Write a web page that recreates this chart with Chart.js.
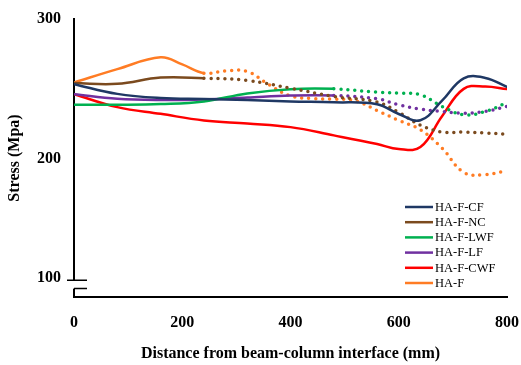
<!DOCTYPE html>
<html>
<head>
<meta charset="utf-8">
<script src="https://cdn.jsdelivr.net/npm/chart.js@4.4.0/dist/chart.umd.min.js"></script>
<style>
  html, body { margin: 0; padding: 0; background: #fff; }
</style>
</head>
<body>
<canvas id="stressChart" width="521" height="365"></canvas>
<script>
// Distance from beam-column interface (mm)
const distance = [0, 80, 160, 240, 320, 400, 480, 560, 600, 640, 680, 720, 760, 800];
const distanceHF = [0, 80, 160, 200, 240, 280, 320, 360, 400, 440, 480, 520, 560, 600, 640, 680, 720, 760, 800];

// Stress (Mpa)
const stressCF  = [253.4, 246.4, 243.4, 242.7, 242.0, 241.0, 240.4, 239.0, 232.0, 227.5, 241.5, 257.5, 257.8, 251.4];
const stressNC  = [254.1, 253.6, 258.1, 257.6, 256.0, 250.5, 244.5, 240.5, 233.1, 224.0, 219.1, 219.1, 218.4, 217.6];
const stressLWF = [238.6, 238.6, 239.1, 241.0, 246.7, 249.8, 250.0, 247.6, 246.9, 245.7, 237.4, 231.4, 233.8, 240.2];
const stressLF  = [246.2, 242.9, 242.0, 242.4, 243.8, 245.2, 245.2, 242.9, 238.6, 235.5, 233.8, 232.6, 233.8, 237.4];
const stressCWF = [246.2, 236.9, 232.1, 227.4, 225.2, 222.6, 216.7, 210.5, 206.9, 208.3, 230.4, 250.0, 251.7, 249.8];
const stressHF  = [254.5, 264.1, 272.6, 267.5, 261.2, 262.9, 262.5, 253.0, 245.0, 243.1, 242.6, 241.4, 234.5, 227.4, 220.7, 207.6, 190.2, 188.6, 191.6];

const seriesNames = ['HA-F-CF', 'HA-F-NC', 'HA-F-LWF', 'HA-F-LF', 'HA-F-CWF', 'HA-F'];
// measured (solid) up to this distance, dotted beyond
const solidUntil = [Infinity, 240, 480, 480, Infinity, 240];

const xTicks = [0, 200, 400, 600, 800];
const yTickLabels = ['100', '200', '300'];
const BREAK_LABEL_AT = 115;   // the "100" label sits at the axis break
const BREAK_TOP = 113, BREAK_BOTTOM = 107;

const colors = ['#1f3864', '#7b4a1e', '#00b050', '#7030a0', '#ff0000', '#ff7c24'];
const serif = "'Liberation Serif', 'Times New Roman', serif";

function pts(xs, ys) {
  return xs.map((x, i) => ({ x: x, y: ys[i] }));
}

const seriesData = [
  pts(distance, stressCF),
  pts(distance, stressNC),
  pts(distance, stressLWF),
  pts(distance, stressLF),
  pts(distance, stressCWF),
  pts(distanceHF, stressHF)
];

const datasets = seriesNames.map((name, i) => ({
  label: name,
  data: seriesData[i],
  borderColor: colors[i],
  backgroundColor: colors[i],
  borderWidth: 2.5,
  borderCapStyle: 'round',
  tension: 0.4,
  pointRadius: 0,
  fill: false,
  segment: {
    borderDash: ctx => ctx.p0.parsed.x >= solidUntil[i] ? [0, 7] : undefined,
    borderWidth: ctx => ctx.p0.parsed.x >= solidUntil[i] ? 3.5 : undefined
  }
}));

// broken y axis marks
const axisBreak = {
  id: 'axisBreak',
  afterDraw(chart) {
    const y = chart.scales.y, ctx = chart.ctx;
    const ax = chart.chartArea.left;
    const t = y.getPixelForValue(BREAK_TOP), b = y.getPixelForValue(BREAK_BOTTOM);
    ctx.save();
    ctx.fillStyle = '#fff';
    ctx.fillRect(ax - 2, t, 4, b - t);
    ctx.strokeStyle = '#000';
    ctx.lineWidth = 1.5;
    ctx.beginPath();
    ctx.moveTo(ax - 7, t); ctx.lineTo(ax + 13, t);
    ctx.moveTo(ax, b); ctx.lineTo(ax + 13, b);
    ctx.stroke();
    ctx.restore();
  }
};

// legend inside the plot, bottom right
const innerLegend = {
  id: 'innerLegend',
  afterDraw(chart) {
    const ctx = chart.ctx, area = chart.chartArea;
    const x0 = area.right - 102, y0 = area.bottom - 90;
    ctx.save();
    ctx.font = '12.5px ' + serif;
    ctx.textBaseline = 'middle';
    ctx.fillStyle = '#000';
    chart.data.datasets.forEach((ds, i) => {
      const y = y0 + i * 15.2;
      ctx.strokeStyle = ds.borderColor;
      ctx.lineWidth = 2.5;
      ctx.beginPath();
      ctx.moveTo(x0, y);
      ctx.lineTo(x0 + 28, y);
      ctx.stroke();
      ctx.fillText(ds.label, x0 + 30, y + 0.5);
    });
    ctx.restore();
  }
};

const ctx = document.getElementById('stressChart').getContext('2d');
new Chart(ctx, {
  type: 'line',
  data: { datasets: datasets },
  plugins: [axisBreak, innerLegend],
  options: {
    responsive: false,
    animation: false,
    layout: { padding: { top: 19, right: 0, left: 0, bottom: 0 } },
    plugins: {
      legend: { display: false },
      tooltip: { enabled: false }
    },
    scales: {
      x: {
        type: 'linear',
        min: 0,
        max: 800,
        grid: { display: false, drawTicks: true, tickLength: 14 },
        border: { display: true, color: '#000', width: 2 },
        afterBuildTicks: s => { s.ticks = xTicks.map(v => ({ value: v })); },
        ticks: { padding: 2, color: '#000', maxRotation: 0, font: { family: serif, size: 16, weight: 'bold' } },
        title: {
          display: true,
          text: 'Distance from beam-column interface (mm)',
          color: '#000',
          font: { family: serif, size: 16, weight: 'bold' },
          padding: { top: 0, bottom: 2 }
        },
        afterFit: s => { s.height = 68; }
      },
      y: {
        min: 101,
        max: 300,
        grid: { display: false },
        border: { display: true, color: '#000', width: 2 },
        afterBuildTicks: s => { s.ticks = [BREAK_LABEL_AT, 200, 300].map(v => ({ value: v })); },
        ticks: {
          padding: 5,
          color: '#000',
          font: { family: serif, size: 16, weight: 'bold' },
          callback: (v, i) => yTickLabels[i]
        },
        title: {
          display: true,
          text: 'Stress (Mpa)',
          color: '#000',
          font: { family: serif, size: 16, weight: 'bold' },
          padding: { top: 5, bottom: 0 }
        },
        afterFit: s => { s.width = 74; }
      }
    }
  }
});
</script>
</body>
</html>
